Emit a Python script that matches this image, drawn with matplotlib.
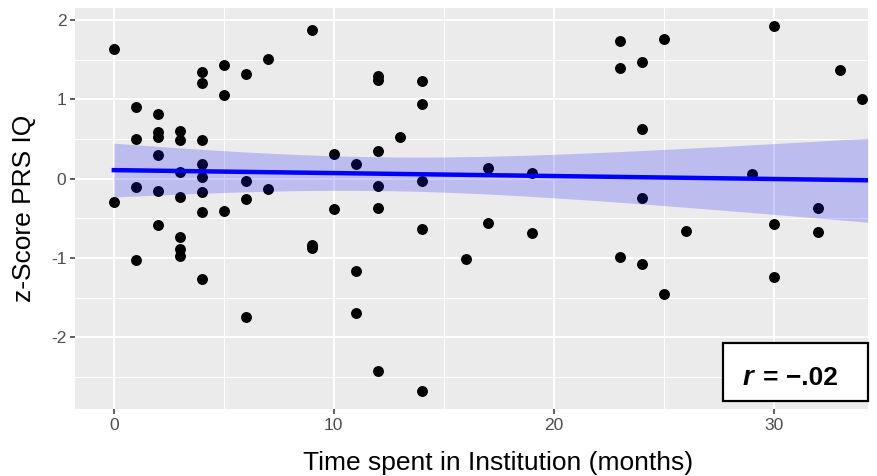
import matplotlib
matplotlib.use('Agg')
import matplotlib.pyplot as plt
from matplotlib.patches import Rectangle
import numpy as np

plt.rcParams['font.family'] = ['Liberation Sans', 'DejaVu Sans']
plt.rcParams['axes.unicode_minus'] = False

# months in institution vs. standardised PRS IQ score
months = [0, 0,
          1, 1, 1, 1,
          2, 2, 2, 2, 2, 2,
          3, 3, 3, 3, 3, 3, 3,
          4, 4, 4, 4, 4, 4, 4, 4,
          5, 5, 5,
          6, 6, 6, 6,
          7, 7,
          9, 9, 9,
          10, 10,
          11, 11, 11,
          12, 12, 12, 12, 12, 12,
          13,
          14, 14, 14, 14, 14,
          16,
          17, 17,
          19, 19,
          23, 23, 23,
          24, 24, 24, 24,
          25, 25,
          26,
          29,
          30, 30, 30,
          32, 32,
          33,
          34]
z_scores = [1.64, -0.30,
            0.91, 0.50, -0.11, -1.03,
            0.81, 0.59, 0.53, 0.30, -0.155, -0.59,
            0.605, 0.49, 0.08, -0.23, -0.73, -0.89, -0.975,
            1.345, 1.21, 0.49, 0.19, 0.025, -0.17, -0.42, -1.27,
            1.43, 1.05, -0.41,
            1.32, -0.025, -0.255, -1.75,
            1.51, -0.13,
            1.87, -0.84, -0.87,
            0.31, -0.385,
            0.19, -1.17, -1.70,
            1.30, 1.25, 0.35, -0.09, -0.365, -2.425,
            0.53,
            1.23, 0.94, -0.025, -0.64, -2.68,
            -1.01,
            0.13, -0.555,
            0.075, -0.68,
            1.74, 1.40, -0.99,
            1.47, 0.63, -0.25, -1.07,
            1.76, -1.455,
            -0.66,
            0.065,
            1.93, -0.57, -1.245,
            -0.365, -0.67,
            1.37,
            1.005]

# reported linear smoother (lm) and its 95% band
fit_intercept = 0.108
fit_slope = -0.00373
band_min_halfwidth = 0.213
band_centre = 12.1
band_spread = 0.0219
r_label = '= \u2212.02'

x_ticks = [0, 10, 20, 30]
y_ticks = [-2, -1, 0, 1, 2]
x_lim = (-1.75, 34.27)
y_lim = (-2.905, 2.153)

x = np.array(months, dtype=float)
y = np.array(z_scores, dtype=float)

xs = np.linspace(x.min(), x_lim[1], 200)
fit = fit_intercept + fit_slope * xs
half = np.sqrt(band_min_halfwidth ** 2 + (band_spread * (xs - band_centre)) ** 2)

fig = plt.figure(figsize=(8.77, 4.76), dpi=100)
ax = fig.add_axes([0.0859, 0.1408, 0.9035, 0.8424])
ax.set_facecolor('#EBEBEB')

ax.set_xticks([5, 15, 25], minor=True)
ax.set_yticks([-2.5, -1.5, -0.5, 0.5, 1.5], minor=True)
ax.set_xticks(x_ticks)
ax.set_yticks(y_ticks)
ax.grid(which='major', color='white', linewidth=1.4)
ax.grid(which='minor', color='white', linewidth=0.7)
ax.set_axisbelow(True)
for sp in ax.spines.values():
    sp.set_visible(False)

ax.scatter(x, y, s=62, color='black', zorder=3, linewidths=0)
ax.fill_between(xs, fit - half, fit + half, color='#0000FF',
                alpha=0.2, linewidth=0, zorder=4)
ax.plot(xs, fit, color='#0000FF', linewidth=3.2, zorder=5)

ax.set_xlim(*x_lim)
ax.set_ylim(*y_lim)
ax.tick_params(which='major', length=3.5, width=1.1, color='#333333',
               labelsize=12.5, labelcolor='#4D4D4D', pad=3)
ax.tick_params(which='minor', length=0)
ax.set_xlabel('Time spent in Institution (months)', fontsize=19,
              color='black', labelpad=13)
ax.xaxis.label.set_x(0.533)
ax.set_ylabel('z-Score PRS IQ', fontsize=19, color='black', labelpad=11)

# correlation label box
ax.add_patch(Rectangle((0.817, 0.0209), 0.1835, 0.1446, transform=ax.transAxes,
                       facecolor='white', edgecolor='black', linewidth=1.6,
                       clip_on=False, zorder=6))
ax.text(0.8426, 0.06, 'r', transform=ax.transAxes, fontsize=20,
        fontweight='bold', style='italic', ha='left', va='baseline', zorder=7)
ax.text(0.8679, 0.06, r_label, transform=ax.transAxes, fontsize=19,
        fontweight='bold', ha='left', va='baseline', zorder=7)

fig.savefig('out.png', dpi=100)
